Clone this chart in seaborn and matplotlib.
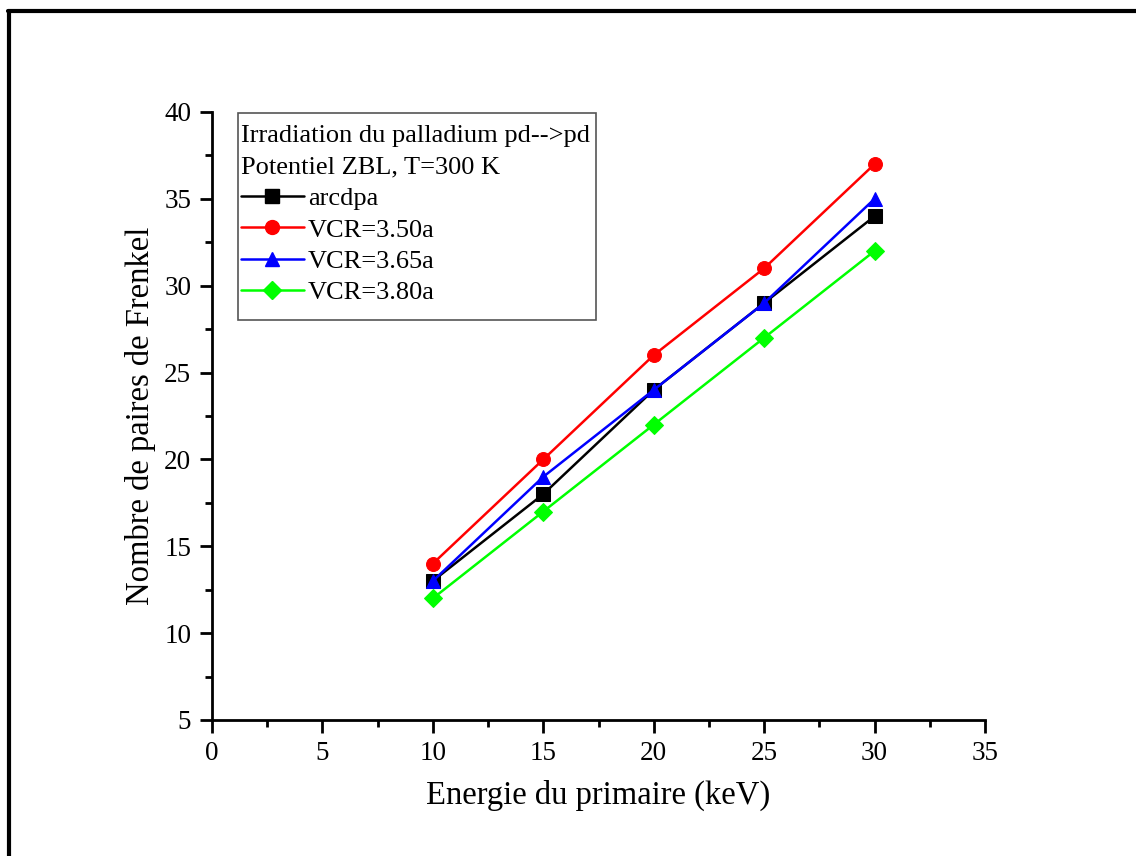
import matplotlib
matplotlib.use("Agg")
import matplotlib.pyplot as plt
import seaborn as sns
import pandas as pd
from matplotlib.lines import Line2D
from matplotlib.patches import Rectangle
from matplotlib.ticker import MultipleLocator

energy = [10, 15, 20, 25, 30]
arcdpa = [13, 18, 24, 29, 34]
vcr_350 = [14, 20, 26, 31, 37]
vcr_365 = [13, 19, 24, 29, 35]
vcr_380 = [12, 17, 22, 27, 32]
series_names = ["arcdpa", "VCR=3.50a", "VCR=3.65a", "VCR=3.80a"]
series_values = [arcdpa, vcr_350, vcr_365, vcr_380]
colors = ["#000000", "#ff0000", "#0000ff", "#00ff00"]
markers = ["s", "o", "^", "D"]
x_ticks = [0, 5, 10, 15, 20, 25, 30, 35]
y_ticks = [5, 10, 15, 20, 25, 30, 35, 40]

rows = []
for name, vals in zip(series_names, series_values):
    for e, v in zip(energy, vals):
        rows.append({"Energie": e, "Paires": v, "Serie": name})
df = pd.DataFrame(rows)

sns.set_style("ticks")
plt.rcParams["font.family"] = ["Liberation Serif", "DejaVu Serif"]
plt.rcParams["text.color"] = "black"
plt.rcParams["axes.labelcolor"] = "black"
plt.rcParams["xtick.color"] = "black"
plt.rcParams["ytick.color"] = "black"

fig = plt.figure(figsize=(11.36, 8.56), dpi=100)
ax = fig.add_axes([0.1866, 0.1589, 0.6805, 0.7103])

for name, vals, c, m in zip(series_names, series_values, colors, markers):
    sub = df[df["Serie"] == name]
    ms = 9 if m == "D" else 10
    sns.lineplot(data=sub, x="Energie", y="Paires", color=c, marker=m,
                 markersize=ms, markeredgecolor=c, linewidth=1.8, ax=ax,
                 label=name, legend=False)

ax.set_xlim(0, 35)
ax.set_ylim(5, 40)
ax.set_xticks(x_ticks)
ax.set_yticks(y_ticks)
ax.xaxis.set_minor_locator(MultipleLocator(2.5))
ax.yaxis.set_minor_locator(MultipleLocator(2.5))
ax.tick_params(axis="both", which="major", direction="out", length=9, width=2,
               labelsize=19.5, pad=6, color="black", labelcolor="black")
ax.tick_params(axis="both", which="minor", direction="out", length=5, width=2,
               color="black")
for s in ["top", "right"]:
    ax.spines[s].set_visible(False)
for s in ["left", "bottom"]:
    ax.spines[s].set_linewidth(2)
    ax.spines[s].set_color("black")

ax.set_xlabel("Energie du primaire (keV)", fontsize=23.5, labelpad=10, color="black")
ax.set_ylabel("Nombre de paires de Frenkel", fontsize=23.5, labelpad=6, color="black")

handles = [Line2D([0], [0], color=c, marker=m, markersize=(9 if m == "D" else 10),
                  linewidth=1.8) for c, m in zip(colors, markers)]
leg = ax.legend(handles, series_names,
                title="Irradiation du palladium pd-->pd\nPotentiel ZBL, T=300 K",
                loc="upper left", bbox_to_anchor=(0.037, 0.979),
                fontsize=19, title_fontsize=19, frameon=False,
                handlelength=2.4, handletextpad=0.15, borderpad=0.0,
                labelspacing=0.3, borderaxespad=0, alignment="left")
for t in leg.get_texts():
    t.set_color("black")
leg.get_title().set_color("black")
leg.get_title().set_linespacing(1.6)

# legend box frame
ax.add_patch(Rectangle((0.0336, 0.658), 0.463, 0.3405, transform=ax.transAxes,
                       fill=False, edgecolor="#555555", linewidth=1.2,
                       zorder=6, clip_on=False))

# decorative figure frame (top and left edges)
fig.add_artist(Line2D([0.007, 1.0], [0.987, 0.987], transform=fig.transFigure,
                      color="black", linewidth=3))
fig.add_artist(Line2D([0.0075, 0.0075], [0.0, 0.987], transform=fig.transFigure,
                      color="black", linewidth=3))

fig.savefig("out.png", dpi=100, facecolor="white")
